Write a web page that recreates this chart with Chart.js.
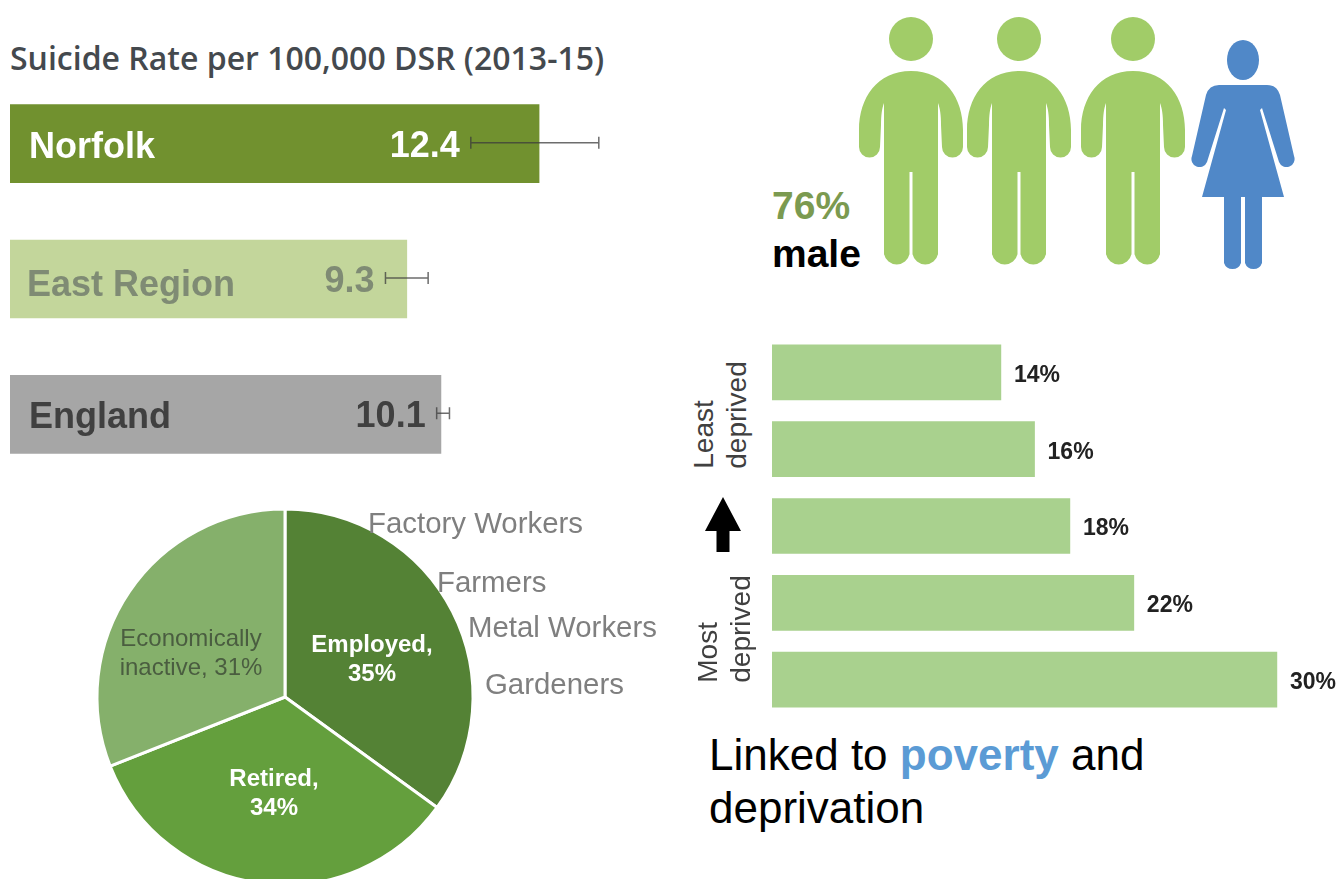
<!DOCTYPE html>
<html>
<head>
<meta charset="utf-8">
<title>Suicide rate infographic</title>
<script src="https://cdn.jsdelivr.net/npm/chart.js@4/dist/chart.umd.min.js"></script>
<style>
  html, body { margin: 0; padding: 0; background: #fff; width: 1340px; height: 879px; overflow: hidden; }
  body { position: relative; font-family: "Liberation Sans", Arial, sans-serif; }
  canvas, svg, .txt { position: absolute; }
  .txt { white-space: nowrap; line-height: 1; }
  .job { color: #7f7f7f; font-size: 29.4px; }
  .side { color: #404040; font-size: 28px; line-height: 33px; text-align: left; transform: translate(-50%, -50%) rotate(-90deg); }
</style>
</head>
<body>

<div class="txt" style="left:10px;top:36px;font:600 32px 'Open Sans';color:#44494e;">Suicide Rate per 100,000 DSR (2013-15)</div>
<canvas id="rateChart" style="left:10px;top:76px;" width="640" height="406"></canvas>

<canvas id="pieChart" style="left:85px;top:497px;" width="400" height="400"></canvas>
<div class="txt job" style="left:368px;top:508px;">Factory Workers</div>
<div class="txt job" style="left:437px;top:567px;">Farmers</div>
<div class="txt job" style="left:468px;top:612px;">Metal Workers</div>
<div class="txt job" style="left:485px;top:669px;">Gardeners</div>

<!-- people icons -->
<svg style="left:760px;top:0;" width="580" height="290" viewBox="760 0 580 290">
  <defs>
    <g id="man">
      <circle cx="0" cy="39" r="22"/>
      <path d="M0 71 C34 71 52 98 52 130 L52 147 A10.5 10.5 0 0 1 31 147 L30 125 C30 115 29 108 27 103 L27 254 A13 13 0 0 1 1.5 254 L1.5 172 L-1.5 172 L-1.5 254 A13 13 0 0 1 -27 254 L-27 103 C-29 108 -30 115 -30 125 L-31 147 A10.5 10.5 0 0 1 -52 147 L-52 130 C-52 98 -34 71 0 71 Z"/>
    </g>
  </defs>
  <use href="#man" x="911" fill="#a1cc68"/>
  <use href="#man" x="1019" fill="#a1cc68"/>
  <use href="#man" x="1133" fill="#a1cc68"/>
  <g transform="translate(1243,0)" fill="#5088c8">
    <ellipse cx="0" cy="60" rx="16" ry="20"/>
    <path d="M-24 85 L24 85 Q34 85 37 95 L51 156 A8 8 0 0 1 36 162 L19 108 L17 110 L41 197 L19 197 L19 263 A9 9 0 0 1 2 263 L2 197 L-2 197 L-2 263 A9 9 0 0 1 -19 263 L-19 197 L-41 197 L-17 110 L-19 108 L-36 162 A8 8 0 0 1 -51 156 L-37 95 Q-34 85 -24 85 Z"/>
  </g>
</svg>
<div class="txt" style="left:772px;top:186px;font-size:39px;font-weight:bold;color:#7b9a50;">76%</div>
<div class="txt" style="left:772px;top:234px;font-size:39px;font-weight:bold;color:#000;">male</div>

<canvas id="depChart" style="left:772px;top:334px;" width="568" height="384"></canvas>
<div class="txt side" style="left:720px;top:415px;">Least<br>deprived</div>
<div class="txt side" style="left:724px;top:629px;">Most<br>deprived</div>
<svg style="left:700px;top:494px;" width="46" height="60" viewBox="0 0 46 60">
  <path d="M23 3 L41 37 L29.5 37 L29.5 58 L16.5 58 L16.5 37 L5 37 Z" fill="#000"/>
</svg>

<div class="txt" style="left:709px;top:733px;font-size:44px;color:#000;">Linked to <b style="color:#5b9bd5;">poverty</b> and</div>
<div class="txt" style="left:709px;top:786px;font-size:44px;color:#000;">deprivation</div>

<script>
  // Suicide rate per 100,000
  const areas = ['Norfolk', 'East Region', 'England'];
  const rates = [12.4, 9.3, 10.1];
  const rateLow = [10.8, 8.8, 10.0];
  const rateHigh = [13.8, 9.8, 10.3];
  const rateColors = ['#71912f', '#c3d69b', '#a6a6a6'];
  const rateTextColors = ['#ffffff', '#7f8b74', '#404040'];

  // Who they were
  const groups = [['Employed,', '35%'], ['Retired,', '34%'], ['Economically', 'inactive, 31%']];
  const shares = [35, 34, 31];
  const shareColors = ['#548235', '#649f3d', '#85b06b'];
  const shareTextColors = ['#ffffff', '#ffffff', '#4a5d40'];

  // Deprivation quintiles, least deprived at the top
  const quintiles = ['Least deprived', '2', '3', '4', 'Most deprived'];
  const quintileShares = [13.6, 15.6, 17.7, 21.5, 30];

  // area names, error bars and the number next to them
  const rateExtras = {
    id: 'rateExtras',
    afterDatasetsDraw(chart) {
      const { ctx, scales: { x, y } } = chart;
      ctx.save();
      rates.forEach((value, i) => {
        const cy = y.getPixelForValue(i) - 1;
        const lo = x.getPixelForValue(rateLow[i]);
        const hi = x.getPixelForValue(rateHigh[i]);
        ctx.strokeStyle = 'rgba(60, 60, 60, 0.75)';
        ctx.lineWidth = 1.5;
        ctx.beginPath();
        ctx.moveTo(lo, cy); ctx.lineTo(hi, cy);
        ctx.moveTo(lo, cy - 6); ctx.lineTo(lo, cy + 6);
        ctx.moveTo(hi, cy - 6); ctx.lineTo(hi, cy + 6);
        ctx.stroke();
        ctx.fillStyle = rateTextColors[i];
        ctx.font = 'bold 36px "Liberation Sans"';
        ctx.textBaseline = 'middle';
        ctx.textAlign = 'right';
        ctx.fillText(value.toFixed(1), lo - 11, cy + 4);
        ctx.textAlign = 'left';
        ctx.fillText(areas[i], x.getPixelForValue(0) + (i === 1 ? 17 : 19), cy + (i === 1 ? 8 : 5));
      });
      ctx.restore();
    },
  };

  new Chart(document.getElementById('rateChart'), {
    type: 'bar',
    data: {
      labels: areas,
      datasets: [{ data: rates, backgroundColor: rateColors, barThickness: 78 }],
    },
    options: {
      indexAxis: 'y',
      responsive: false,
      animation: false,
      layout: { padding: 0 },
      plugins: { legend: { display: false }, tooltip: { enabled: false } },
      scales: {
        x: { display: false, min: 0, max: 15 },
        y: { display: false },
      },
    },
    plugins: [rateExtras],
  });

  // offsets from the pie centre for the slice labels
  const pieLabelOffsets = [[87, -37], [-11, 97], [-94, -43]];

  const pieLabels = {
    id: 'pieLabels',
    afterDatasetsDraw(chart) {
      const { ctx } = chart;
      const arc = chart.getDatasetMeta(0).data[0];
      ctx.save();
      ctx.textAlign = 'center';
      ctx.textBaseline = 'middle';
      groups.forEach((lines, i) => {
        ctx.fillStyle = shareTextColors[i];
        ctx.font = (i < 2 ? 'bold ' : '') + '24px "Liberation Sans"';
        lines.forEach((line, j) => {
          ctx.fillText(line, arc.x + pieLabelOffsets[i][0], arc.y + pieLabelOffsets[i][1] + (j - 0.5) * 29);
        });
      });
      ctx.restore();
    },
  };

  new Chart(document.getElementById('pieChart'), {
    type: 'pie',
    data: {
      labels: groups.map((g) => g.join(' ')),
      datasets: [{ data: shares, backgroundColor: shareColors, borderColor: '#ffffff', borderWidth: 3 }],
    },
    options: {
      responsive: false,
      animation: false,
      radius: 188,
      plugins: { legend: { display: false }, tooltip: { enabled: false } },
    },
    plugins: [pieLabels],
  });

  // percentage at the end of each bar
  const depLabels = {
    id: 'depLabels',
    afterDatasetsDraw(chart) {
      const { ctx, scales: { x, y } } = chart;
      ctx.save();
      ctx.fillStyle = '#222222';
      ctx.font = 'bold 23px "Liberation Sans"';
      ctx.textBaseline = 'middle';
      quintileShares.forEach((value, i) => {
        ctx.fillText(Math.round(value) + '%', x.getPixelForValue(value) + 13, y.getPixelForValue(i) + 3);
      });
      ctx.restore();
    },
  };

  new Chart(document.getElementById('depChart'), {
    type: 'bar',
    data: {
      labels: quintiles,
      datasets: [{ data: quintileShares, backgroundColor: '#a9d18e', barThickness: 55 }],
    },
    options: {
      indexAxis: 'y',
      responsive: false,
      animation: false,
      layout: { padding: 0 },
      plugins: { legend: { display: false }, tooltip: { enabled: false } },
      scales: {
        x: { display: false, min: 0, max: 33.75 },
        y: { display: false },
      },
    },
    plugins: [depLabels],
  });
</script>
</body>
</html>
